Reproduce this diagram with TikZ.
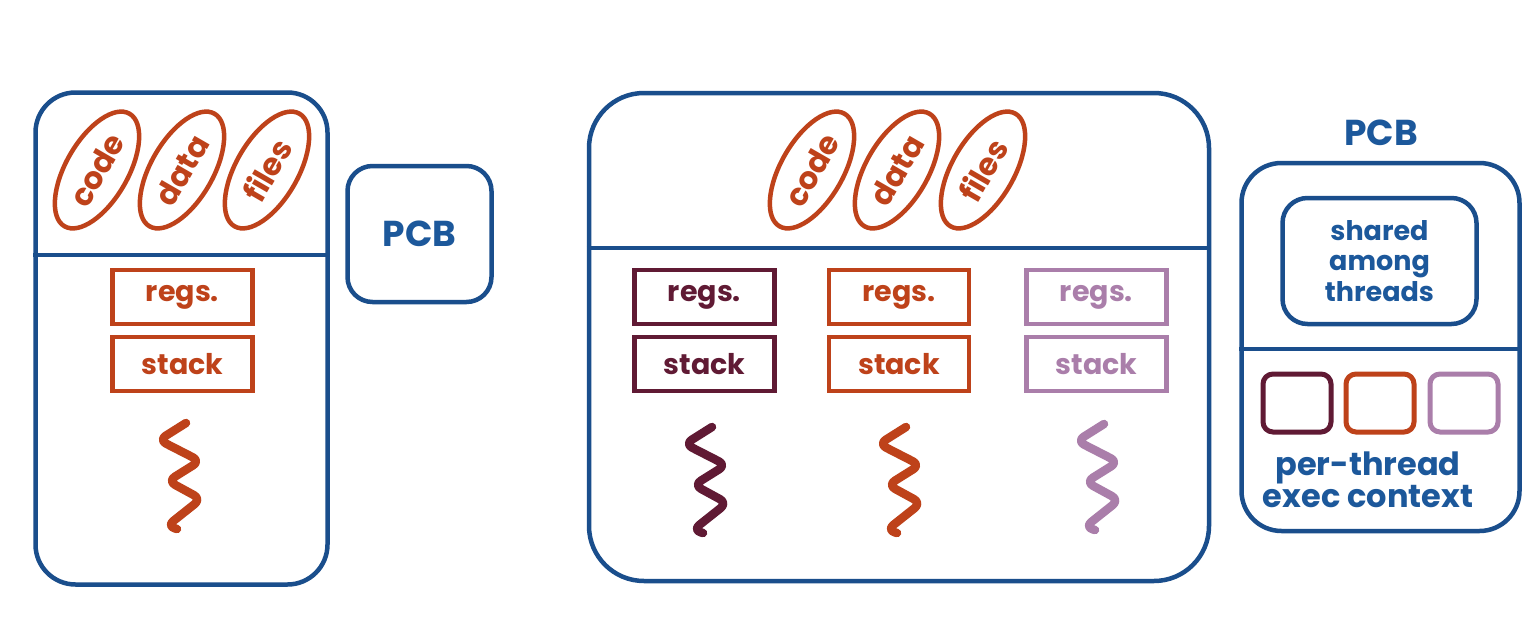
\documentclass[tikz,border=0pt]{standalone}
\usepackage{fontspec}
\setmainfont{Poppins}
\usetikzlibrary{shapes.geometric}
\definecolor{pblue}{RGB}{26,78,140}
\definecolor{tblue}{RGB}{28,88,155}
\definecolor{orng}{RGB}{190,66,26}
\definecolor{maroon}{RGB}{96,26,52}
\definecolor{lpurp}{RGB}{170,126,170}
\tikzset{
  procbox/.style={draw=pblue, line width=4.5pt, rectangle, rounded corners=#1, inner sep=0pt},
  procbox/.default=40pt,
  ell/.style={draw=orng, line width=4.5pt, ellipse, minimum width=130pt, minimum height=62pt,
     inner sep=0pt, text=orng, font=\bfseries\fontsize{31}{33}\selectfont, rotate=60},
  tbox/.style={draw=#1, text=#1, line width=4.5pt, rectangle, minimum width=140pt, minimum height=54pt,
     inner sep=0pt, font=\bfseries\fontsize{28.5}{30}\selectfont},
  sqbox/.style={draw=#1, line width=5pt, rectangle, rounded corners=10pt, minimum width=68pt, minimum height=58pt, inner sep=0pt},
  btext/.style={text=tblue, font=\bfseries\fontsize{27}{30.5}\selectfont, align=center, inner sep=0pt},
  pcbtext/.style={text=tblue, font=\bfseries\fontsize{36}{38}\selectfont, inner sep=0pt},
  divider/.style={draw=pblue, line width=4.5pt},
  squig/.pic={\draw[line width=8.5pt, line cap=round, line join=round, rounded corners=8pt]
     (0,0) -- (-27,17) -- (14,38) -- (-18,58) -- (15,76) -- (-19,103) -- (-9,106);}
}
\begin{document}
\begin{tikzpicture}[x=1pt,y=-1pt]
\useasboundingbox (0,0) rectangle (1535,629);
\fill[white] (0,0) rectangle (1535,629);
% ---------- left process ----------
\node[procbox, minimum width=292pt, minimum height=492pt] (p1) at (181.5,338.5) {};
\coordinate (p1d) at (0,255);
\draw[divider] (p1.west |- p1d) -- (p1.east |- p1d);
\node[ell] (c1) at (97,170) {code};
\node[ell] (d1) at (182,170) {data};
\node[ell] (f1) at (267,170) {files};
\node[tbox=orng] (r1) at (182.5,297) {regs.};
\node[tbox=orng] (s1) at (182.5,364) {stack};
\pic[color=orng] (q1) at (186,423) {squig};
% left PCB
\node[procbox=25pt, minimum width=144pt, minimum height=136pt] (pcb1) at (419.5,234) {};
\node[pcbtext] (pcb1t) at (pcb1.center) {PCB};
% ---------- middle process ----------
\node[procbox=55pt, minimum width=620pt, minimum height=488pt] (p2) at (899,337) {};
\coordinate (p2d) at (0,248);
\draw[divider] (p2.west |- p2d) -- (p2.east |- p2d);
\node[ell] (c2) at (812,170) {code};
\node[ell] (d2) at (897,170) {data};
\node[ell] (f2) at (983,170) {files};
\node[tbox=maroon] (r2a) at (704.5,297) {regs.};
\node[tbox=maroon] (s2a) at (704.5,364) {stack};
\node[tbox=orng] (r2b) at (899,297) {regs.};
\node[tbox=orng] (s2b) at (899,364) {stack};
\node[tbox=lpurp] (r2c) at (1096.5,297) {regs.};
\node[tbox=lpurp] (s2c) at (1096.5,364) {stack};
\pic[color=maroon] (q2a) at (712,427) {squig};
\pic[color=orng] (q2b) at (906,427) {squig};
\pic[color=lpurp] (q2c) at (1104,424) {squig};
% ---------- right PCB ----------
\node[pcbtext] (pcb2t) at (1381,133) {PCB};
\node[procbox=40pt, minimum width=278pt, minimum height=368pt] (pcb2) at (1380.5,347) {};
\coordinate (pcb2d) at (0,349);
\draw[divider] (pcb2.west |- pcb2d) -- (pcb2.east |- pcb2d);
\node[procbox=25pt, minimum width=194pt, minimum height=126pt] (sh) at (1379.5,261) {};
\node[btext] (sht) at (sh.center) {shared\\among\\threads};
\node[sqbox=maroon] (e1) at (1297,403) {};
\node[sqbox=orng] (e2) at (1380,403) {};
\node[sqbox=lpurp] (e3) at (1464,403) {};
\node[btext, font=\bfseries\fontsize{32}{29}\selectfont] (pt) at (1368,480) {per-thread\\exec context};
\end{tikzpicture}
\end{document}
